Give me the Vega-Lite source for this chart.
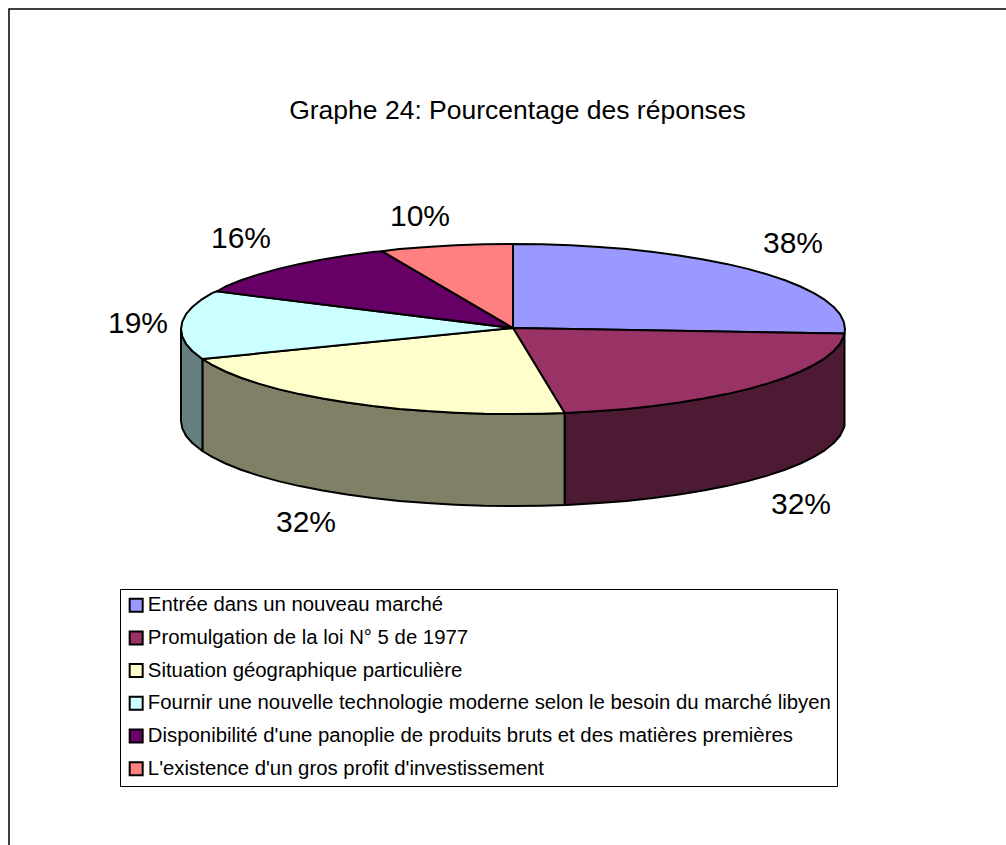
{
"$schema":"https://vega.github.io/schema/vega-lite/v6.json",
"width":1002,"height":841,
"autosize":{"type":"none"},
"padding":{"left":9,"top":9,"right":-5,"bottom":-5},
"background":"white",
"view":{"stroke":"black","strokeWidth":1.5,"fill":"white"},
"title":{"text":"Graphe 24: Pourcentage des réponses","font":"Liberation Sans","fontSize":26.5,"fontWeight":"normal","color":"black","anchor":"middle","baseline":"middle","offset":-128,"dx":7.5},
"projection":{"type":"identity","reflectY":true,"scale":1,"translate":[504,320]},
"layer":[
{"data":{"values":[
{"type":"Feature","properties":{"category":"Promulgation de la loi N° 5 de 1977 (côté)"},"geometry":{"type":"Polygon","coordinates":[[[331.5,-4.5],[330.7,-7.4],[327,-14.8],[320.7,-22],[312,-29.1],[300.9,-35.9],[287.5,-42.5],[272,-48.8],[254.3,-54.6],[234.8,-60.1],[213.4,-65.1],[190.4,-69.6],[166,-73.6],[140.3,-77],[113.6,-79.9],[85.9,-82.1],[57.7,-83.7],[51.6,-84],[51.6,-176],[57.7,-175.7],[85.9,-174.1],[113.6,-171.9],[140.3,-169],[166,-165.6],[190.4,-161.6],[213.4,-157.1],[234.8,-152.1],[254.3,-146.6],[272,-140.8],[287.5,-134.5],[300.9,-127.9],[312,-121.1],[320.7,-114],[327,-106.8],[330.7,-99.4],[331.5,-96.5],[331.5,-4.5]]]}},
{"type":"Feature","properties":{"category":"Situation géographique particulière (côté)"},"geometry":{"type":"Polygon","coordinates":[[[51.6,-84],[28.9,-84.7],[0,-85],[-28.9,-84.7],[-57.7,-83.7],[-85.9,-82.1],[-113.6,-79.9],[-140.3,-77],[-166,-73.6],[-190.4,-69.6],[-213.4,-65.1],[-234.8,-60.1],[-254.3,-54.6],[-272,-48.8],[-287.5,-42.5],[-300.9,-35.9],[-310.6,-30],[-310.6,-122],[-300.9,-127.9],[-287.5,-134.5],[-272,-140.8],[-254.3,-146.6],[-234.8,-152.1],[-213.4,-157.1],[-190.4,-161.6],[-166,-165.6],[-140.3,-169],[-113.6,-171.9],[-85.9,-174.1],[-57.7,-175.7],[-28.9,-176.7],[0,-177],[28.9,-176.7],[51.6,-176],[51.6,-84]]]}},
{"type":"Feature","properties":{"category":"Fournir une nouvelle technologie (côté)"},"geometry":{"type":"Polygon","coordinates":[[[-310.6,-30],[-320.7,-22],[-327,-14.8],[-330.7,-7.4],[-332,0],[-332,-92],[-330.7,-99.4],[-327,-106.8],[-320.7,-114],[-310.6,-122],[-310.6,-30]]]}}
]},
"mark":{"type":"geoshape","stroke":"black","strokeWidth":2,"strokeJoin":"round"},
"encoding":{"fill":{"field":"properties.category","type":"nominal","legend":null,"scale":{"domain":["Promulgation de la loi N° 5 de 1977 (côté)","Situation géographique particulière (côté)","Fournir une nouvelle technologie (côté)"],"range":["#4D1A33","#808066","#668080"]}}}},
{"data":{"values":[
{"type":"Feature","properties":{"category":"Entrée dans un nouveau marché","pct":38},"geometry":{"type":"Polygon","coordinates":[[[0,1],[0,85],[28.9,84.7],[57.7,83.7],[85.9,82.1],[113.6,79.9],[140.3,77],[166,73.6],[190.4,69.6],[213.4,65.1],[234.8,60.1],[254.3,54.6],[272,48.8],[287.5,42.5],[300.9,35.9],[312,29.1],[320.7,22],[327,14.8],[330.7,7.4],[332,0],[331.5,-4.5],[0,1]]]}},
{"type":"Feature","properties":{"category":"Promulgation de la loi N° 5 de 1977","pct":32},"geometry":{"type":"Polygon","coordinates":[[[0,1],[331.5,-4.5],[330.7,-7.4],[327,-14.8],[320.7,-22],[312,-29.1],[300.9,-35.9],[287.5,-42.5],[272,-48.8],[254.3,-54.6],[234.8,-60.1],[213.4,-65.1],[190.4,-69.6],[166,-73.6],[140.3,-77],[113.6,-79.9],[85.9,-82.1],[57.7,-83.7],[51.6,-84],[0,1]]]}},
{"type":"Feature","properties":{"category":"Situation géographique particulière","pct":32},"geometry":{"type":"Polygon","coordinates":[[[0,1],[51.6,-84],[28.9,-84.7],[0,-85],[-28.9,-84.7],[-57.7,-83.7],[-85.9,-82.1],[-113.6,-79.9],[-140.3,-77],[-166,-73.6],[-190.4,-69.6],[-213.4,-65.1],[-234.8,-60.1],[-254.3,-54.6],[-272,-48.8],[-287.5,-42.5],[-300.9,-35.9],[-310.6,-30],[0,1]]]}},
{"type":"Feature","properties":{"category":"Fournir une nouvelle technologie moderne selon le besoin du marché libyen","pct":19},"geometry":{"type":"Polygon","coordinates":[[[0,1],[-310.6,-30],[-320.7,-22],[-327,-14.8],[-330.7,-7.4],[-332,0],[-330.7,7.4],[-327,14.8],[-320.7,22],[-312,29.1],[-300.9,35.9],[-296,37.7],[0,1]]]}},
{"type":"Feature","properties":{"category":"Disponibilité d'une panoplie de produits bruts et des matières premières","pct":16},"geometry":{"type":"Polygon","coordinates":[[[0,1],[-296,37.7],[-287.5,42.5],[-272,48.8],[-254.3,54.6],[-234.8,60.1],[-213.4,65.1],[-190.4,69.6],[-166,73.6],[-140.3,77],[-131,77.8],[0,1]]]}},
{"type":"Feature","properties":{"category":"L'existence d'un gros profit d'investissement","pct":10},"geometry":{"type":"Polygon","coordinates":[[[0,1],[-131,77.8],[-113.6,79.9],[-85.9,82.1],[-57.7,83.7],[-28.9,84.7],[0,85],[0,1]]]}}
]},
"mark":{"type":"geoshape","stroke":"black","strokeWidth":2,"strokeJoin":"round"},
"encoding":{"fill":{"field":"properties.category","type":"nominal","sort":null,
"scale":{"domain":["Entrée dans un nouveau marché","Promulgation de la loi N° 5 de 1977","Situation géographique particulière","Fournir une nouvelle technologie moderne selon le besoin du marché libyen","Disponibilité d'une panoplie de produits bruts et des matières premières","L'existence d'un gros profit d'investissement"],"range":["#9999FF","#993366","#FFFFCC","#CCFFFF","#660066","#FF8080"]},
"legend":{"title":null,"orient":"none","legendX":111,"legendY":580,"direction":"vertical","padding":6,"strokeColor":"black","fillColor":"white","symbolType":"square","symbolSize":169,"symbolStrokeColor":"black","symbolStrokeWidth":2,"symbolOpacity":1,"labelFont":"Liberation Sans","labelFontSize":20.35,"labelColor":"black","labelLimit":800,"labelOffset":1.5,"rowPadding":10.7,"columnPadding":0}}}},
{"data":{"values":[
{"label":"38%","lon":280,"lat":85},
{"label":"32%","lon":288,"lat":-176},
{"label":"32%","lon":-207,"lat":-194},
{"label":"19%","lon":-375,"lat":5},
{"label":"16%","lon":-272,"lat":90},
{"label":"10%","lon":-93,"lat":112}
]},
"mark":{"type":"text","font":"Liberation Sans","fontSize":30,"color":"black","baseline":"middle","align":"center"},
"encoding":{"longitude":{"field":"lon","type":"quantitative"},"latitude":{"field":"lat","type":"quantitative"},"text":{"field":"label","type":"nominal"}}}
],
"resolve":{"scale":{"fill":"independent"}}
}
